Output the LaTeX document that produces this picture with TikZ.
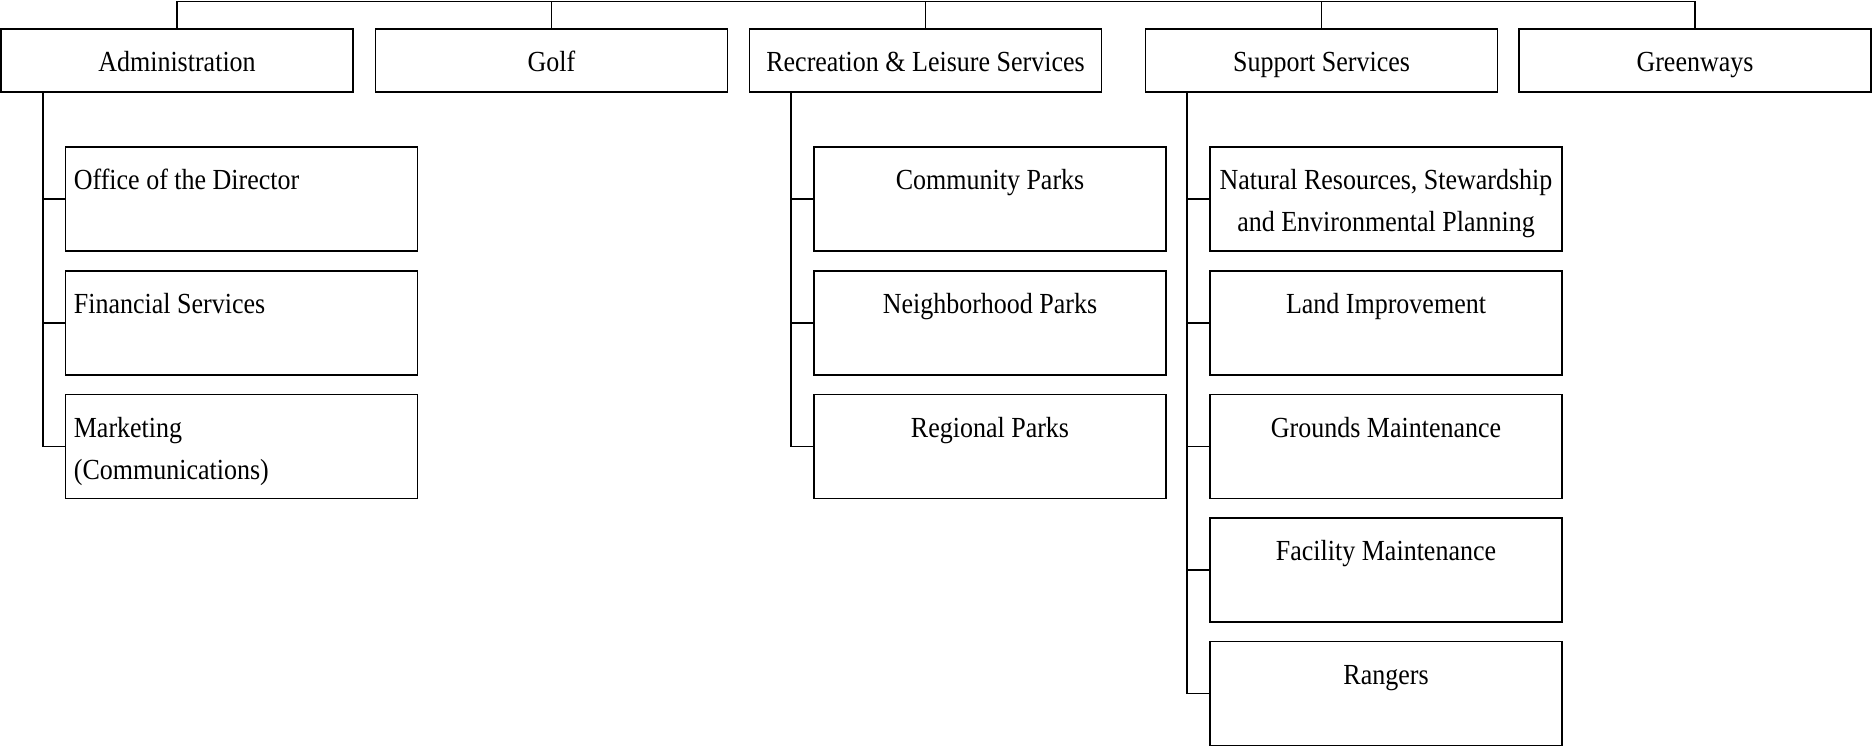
\documentclass[tikz,border=0pt]{standalone}
\usepackage{fontspec}
\setmainfont{Liberation Serif}
\usepackage{graphicx}
% slightly tall lettering
\newcommand{\tall}[1]{\scalebox{1}[1.12]{#1}}
\begin{document}
\begin{tikzpicture}[x=1pt,y=-1pt,
  unit/.style={draw,line width=1.7pt,minimum width=352pt,minimum height=63pt,inner sep=0pt},
  sub/.style={draw,line width=1.7pt,minimum width=352pt,minimum height=104pt,inner sep=0pt},
  lbl/.style={font=\fontsize{26}{31}\selectfont,inner sep=0pt},
  link/.style={line width=1.7pt}]
\useasboundingbox (0,0) rectangle (1872,747);

% top-level units
\node[unit] (admin) at (177,60.5) {};
\node[unit] (golf)  at (551.5,60.5) {};
\node[unit] (rec)   at (925.5,60.5) {};
\node[unit] (supp)  at (1321.5,60.5) {};
\node[unit] (green) at (1695,60.5) {};
\foreach \n/\t in {admin/Administration,golf/Golf,rec/Recreation \& Leisure Services,supp/Support Services,green/Greenways}
  \node[lbl,anchor=base] (\n-t) at ([yshift=-43.5pt]\n.north) {\tall{\t}};

% bus along the top
\coordinate (bus) at (0,1.5);
\draw[link] (admin.north) -- (admin.north |- bus) -- (green.north |- bus) -- (green.north);
\foreach \n in {golf,rec,supp}
  \draw[link] (\n.north) -- (\n.north |- bus);

% Administration sections
\node[sub] (off) at (241.5,199) {};
\node[sub] (fin) at (241.5,322.7) {};
\node[sub] (mkt) at (241.5,446.4) {};
\node[lbl,anchor=base west] (off-t) at ([xshift=9pt,yshift=-43.5pt]off.north west) {\tall{Office of the Director}};
\node[lbl,anchor=base west] (fin-t) at ([xshift=9pt,yshift=-43.5pt]fin.north west) {\tall{Financial Services}};
\node[lbl,anchor=base west] (mkt-t) at ([xshift=9pt,yshift=-43.5pt]mkt.north west) {\tall{Marketing}};
\node[lbl,anchor=base west] (mkt-t2) at ([xshift=9pt,yshift=-85.5pt]mkt.north west) {\tall{(Communications)}};
\foreach \c in {off,fin,mkt}
  \draw[link] ([xshift=42.5pt]admin.south west) |- (\c.west);

% Recreation & Leisure sections
\node[sub] (com) at (990,199) {};
\node[sub] (nbh) at (990,322.7) {};
\node[sub] (reg) at (990,446.4) {};
\foreach \n/\t in {com/Community Parks,nbh/Neighborhood Parks,reg/Regional Parks}
  \node[lbl,anchor=base] (\n-t) at ([yshift=-43.5pt]\n.north) {\tall{\t}};
\foreach \c in {com,nbh,reg}
  \draw[link] ([xshift=42.5pt]rec.south west) |- (\c.west);

% Support Services sections
\node[sub] (nat)  at (1386,199) {};
\node[sub] (land) at (1386,322.7) {};
\node[sub] (grd)  at (1386,446.4) {};
\node[sub] (fac)  at (1386,570.1) {};
\node[sub] (rng)  at (1386,693.5) {};
\node[lbl,anchor=base] (nat-t)  at ([yshift=-43.5pt]nat.north) {\tall{Natural Resources, Stewardship}};
\node[lbl,anchor=base] (nat-t2) at ([yshift=-85.5pt]nat.north) {\tall{and Environmental Planning}};
\foreach \n/\t in {land/Land Improvement,grd/Grounds Maintenance,fac/Facility Maintenance,rng/Rangers}
  \node[lbl,anchor=base] (\n-t) at ([yshift=-43.5pt]\n.north) {\tall{\t}};
\foreach \c in {nat,land,grd,fac,rng}
  \draw[link] ([xshift=42.5pt]supp.south west) |- (\c.west);
\end{tikzpicture}
\end{document}
